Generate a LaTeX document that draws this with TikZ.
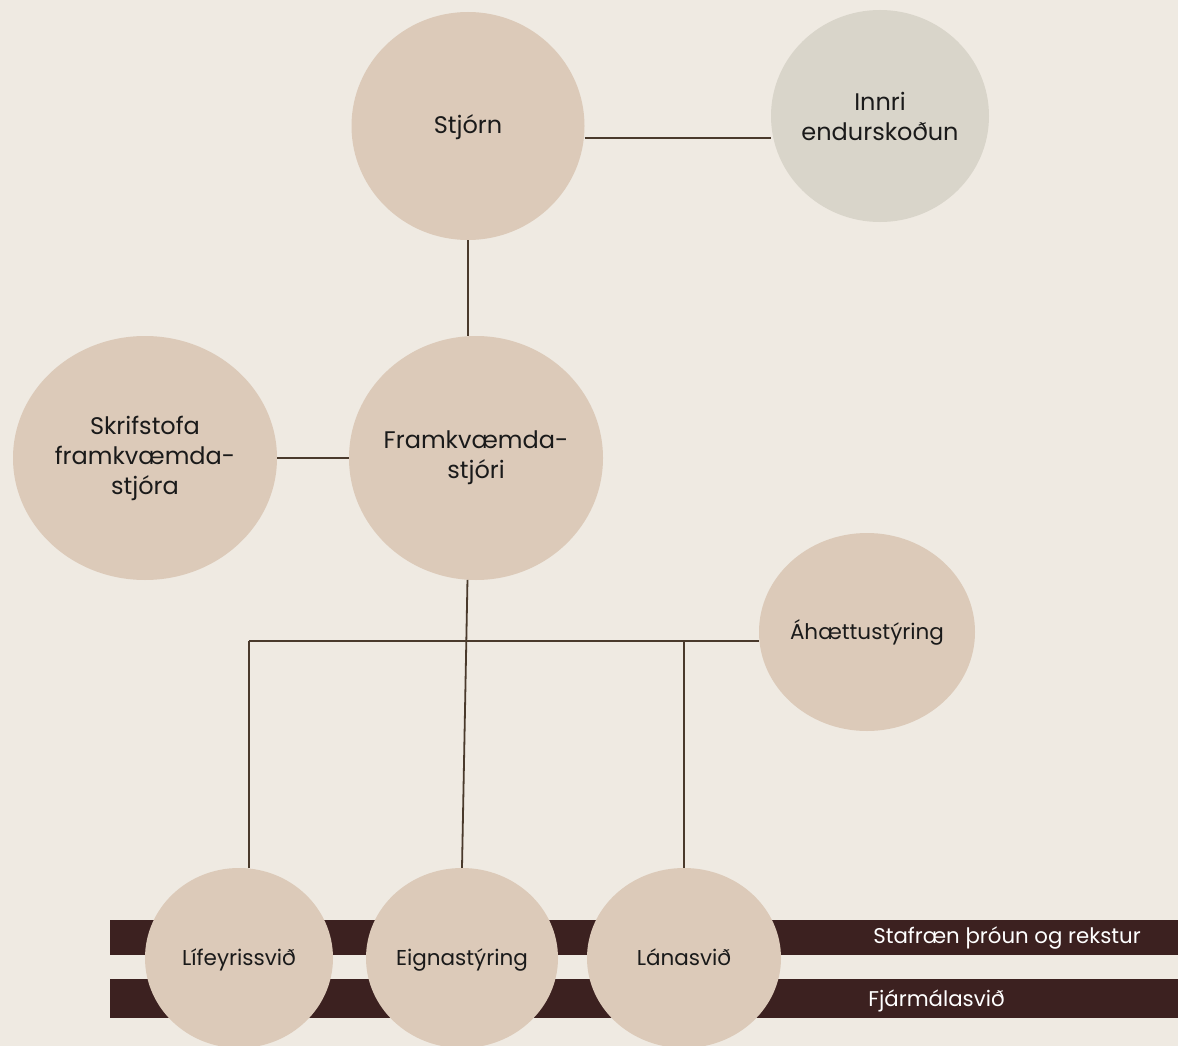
\documentclass[tikz,border=0pt]{standalone}
\usepackage{fontspec}
\setmainfont{Poppins}
\usetikzlibrary{shapes.geometric}
\definecolor{bg}{HTML}{EFEAE2}
\definecolor{circ}{HTML}{DCCAB9}
\definecolor{grayc}{HTML}{D9D5CA}
\definecolor{linec}{HTML}{4A3A2C}
\definecolor{barc}{HTML}{3C2120}
\definecolor{txt}{HTML}{1A1A1A}
\begin{document}
\begin{tikzpicture}[x=1pt,y=-1pt,
  unit/.style={ellipse,fill=circ,inner sep=-30pt,align=center,text=txt,font=\fontsize{24}{30}\selectfont},
  single/.style={unit,text height=16pt,text depth=0pt},
  small/.style={unit,font=\fontsize{21.5}{27}\selectfont,text height=15pt,text depth=0pt},
  conn/.style={draw=linec,line width=1.8pt},
  barbox/.style={rectangle,fill=barc,inner sep=0pt,anchor=north west},
  bartext/.style={text=white,font=\fontsize{21.3}{26}\selectfont,text height=15pt,text depth=0pt}]
\fill[bg] (0,0) rectangle (1178,1046);
\useasboundingbox (0,0) rectangle (1178,1046);
% bars
\node[barbox,minimum width=1068pt,minimum height=35pt] (bar1) at (110,920) {};
\node[barbox,minimum width=1068pt,minimum height=39pt] (bar2) at (110,979) {};
\node[bartext] (t1) at (1007,936) {Stafræn þróun og rekstur};
\node[bartext] (t2) at (936.5,999) {Fjármálasvið};
% nodes
\node[single,minimum width=233pt,minimum height=228pt] (stjorn) at (468,126) {Stjórn};
\node[unit,fill=grayc,minimum width=218pt,minimum height=212pt] (innri) at (880,116) {Innri\\endurskoðun};
\node[unit,minimum width=254pt,minimum height=244pt] (fram) at (476,458) {Framkvæmda-\\stjóri};
\node[unit,minimum width=264pt,minimum height=244pt] (skrif) at (145,458) {Skrifstofa\\framkvæmda-\\stjóra};
\node[small,minimum width=216pt,minimum height=198pt] (ahaet) at (867,632) {Áhættustýring};
\node[small,minimum width=188pt,minimum height=180pt] (lif) at (239,958) {Lífeyrissvið};
\node[small,minimum width=192pt,minimum height=180pt] (eign) at (462,958) {Eignastýring};
\node[small,minimum width=194pt,minimum height=180pt] (lan) at (684,958) {Lánasvið};
% connectors
\coordinate (hl) at (249,641);
\coordinate (hr) at (684,641);
\draw[conn] (stjorn.east |- 0,138) -- (innri.west |- 0,138);
\draw[conn] (stjorn.south) -- (stjorn.south |- fram.north);
\draw[conn] (skrif.east) -- (fram.west);
\draw[conn] (fram.-94.5) -- (eign.north);
\draw[conn] (hl) -- (ahaet.west |- hl);
\draw[conn] (hl) -- (hl |- lif.north);
\draw[conn] (hr) -- (lan.north);
\end{tikzpicture}
\end{document}
